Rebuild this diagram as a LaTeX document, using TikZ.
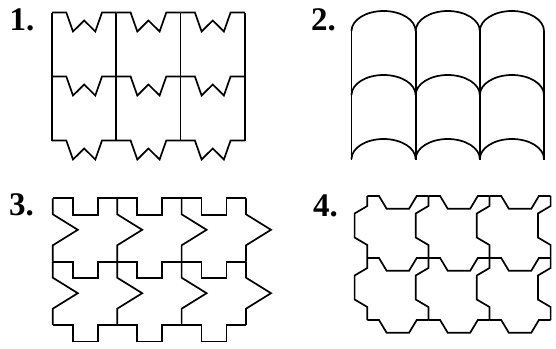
\documentclass[tikz,border=0pt]{standalone}
\usepackage{fontspec}
\setmainfont{Liberation Serif}
\begin{document}
\begin{tikzpicture}[x=1pt,y=-1pt,
  tile/.style={line width=1.7pt,line join=miter,line cap=butt},
  lbl/.style={anchor=base west,inner sep=0pt,font=\fontsize{33}{33}\selectfont\bfseries}]
\useasboundingbox (0,0) rectangle (556,348);
% labels
\node[lbl] (l1) at (9.5,30) {1.};
\node[lbl] (l2) at (311,30) {2.};
\node[lbl] (l3) at (9,215.5) {3.};
\node[lbl] (l4) at (313,216.5) {4.};
% ---- tiling 1 ----
\foreach \r in {0,1,2}{
  \foreach \c in {0,1,2}{
    \pgfmathsetmacro\xx{52+64.3*\c}
    \pgfmathsetmacro\yy{12.5+64*\r}
    \draw[tile] (\xx,\yy) -- ++(14.3,0) -- ++(6.7,19) -- ++(11.15,-11) -- ++(11.15,11) -- ++(6.7,-19) -- ++(14.3,0);
  }}
\foreach \c in {0,1,2,3}{
  \pgfmathsetmacro\xx{52+64.3*\c}
  \draw[tile] (\xx,12.5) -- (\xx,140.5);
}
% ---- tiling 2 ----
\foreach \r in {0,1,2}{
  \foreach \c in {0,1,2}{
    \pgfmathsetmacro\xx{351.5+64.17*\c}
    \pgfmathsetmacro\yy{31+64*\r}
    \draw[tile] (\xx,\yy) arc[start angle=180,end angle=0,x radius=32.08pt,y radius=20pt];
  }}
\foreach \c in {0,1,2,3}{
  \pgfmathsetmacro\xx{351.5+64.17*\c}
  \draw[tile] (\xx,31) -- (\xx,159.5);
}
% ---- tiling 3 ----
\foreach \r in {0,1,2}{
  \foreach \c in {0,1,2}{
    \pgfmathsetmacro\xx{52.8+64.4*\c}
    \pgfmathsetmacro\yy{198.3+63.4*\r}
    \draw[tile] (\xx,\yy) -- ++(20,0) -- ++(0,16.5) -- ++(25,0) -- ++(0,-16.5) -- ++(19.4,0);
  }}
\foreach \r in {0,1}{
  \foreach \c in {0,1,2,3}{
    \pgfmathsetmacro\xx{52.8+64.4*\c}
    \pgfmathsetmacro\yy{198.3+63.4*\r}
    \draw[tile] (\xx,\yy) -- ++(0,16) -- ++(25,15.5) -- ++(-25,15.5) -- ++(0,16.4);
  }}
% ---- tiling 4 ----
\foreach \r in {0,1,2}{
  \foreach \c in {0,1,2}{
    \pgfmathsetmacro\xx{367.3+61.1*\c}
    \pgfmathsetmacro\yy{196+62*\r}
    \draw[tile] (\xx,\yy) -- ++(11.7,0) -- ++(7.6,12.7) -- ++(22.5,0) -- ++(7.6,-12.7) -- ++(11.7,0);
  }}
\foreach \r in {0,1}{
  \foreach \c in {0,1,2,3}{
    \pgfmathsetmacro\xx{367.3+61.1*\c}
    \pgfmathsetmacro\yy{196+62*\r}
    \draw[tile] (\xx,\yy) -- ++(0,10) -- ++(-12.7,7.5) -- ++(0,24) -- ++(12.7,7.5) -- ++(0,13);
  }}
\end{tikzpicture}
\end{document}
